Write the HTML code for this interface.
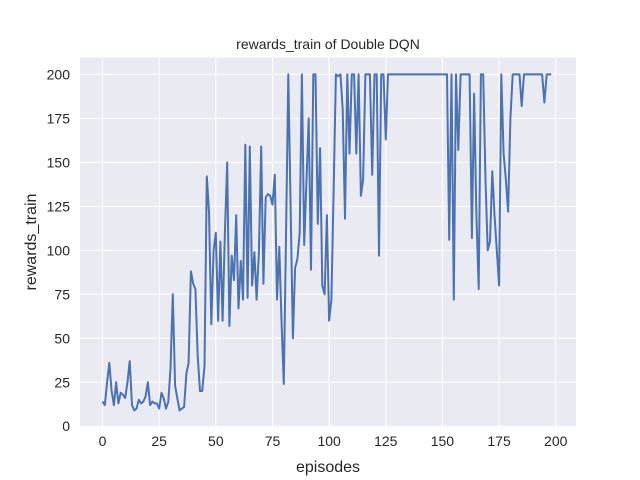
<!DOCTYPE html>
<html><head><meta charset="utf-8"><style>
body{margin:0;background:#fff}
svg{display:block;font-family:"Liberation Sans","DejaVu Sans",sans-serif}
</style></head><body>
<svg id="s" width="640" height="480" xmlns="http://www.w3.org/2000/svg">
<rect x="80" y="57.6" width="496" height="369.6" fill="#eaeaf2"/>
<g id="grid" stroke="#fff" stroke-width="1"></g>
<g id="lab" font-size="14" fill="#262626"></g>
<polyline id="line" fill="none" stroke="#4c72b0" stroke-width="2" stroke-linejoin="round"/>
<text x="328" y="49" font-size="14" text-anchor="middle" fill="#262626">rewards_train of Double DQN</text>
<text x="328" y="472" font-size="16" text-anchor="middle" fill="#262626">episodes</text>
<text x="36" y="242" font-size="16" text-anchor="middle" fill="#262626" transform="rotate(-90 36 242)">rewards_train</text>
</svg>
<script>
var d=[14,12,25,36,20,12,25,13,19,18,16,25,37,12,9,10,15,13,14,17,25,12,14,13,13,10,19,16,10,14,33,75,23,16,9,10,11,30,36,88,81,78,40,20,20,34,142,122,58,100,110,60,105,60,110,150,57,97,83,120,67,94,72,160,73,159,80,99,72,99,159,81,130,132,131,126,143,72,
102,60,24,112,200,125,50,90,95,110,200,103,140,175,89,200,200,115,158,80,75,120,60,72,136,200,199,200,180,118,200,155,200,200,155,200,131,140,200,200,200,143,200,200,97,200,200,163,200];
while(d.length<153)d.push(200);
d=d.concat([106,200,72,200,157,200,200,200,200,200,107,189,120,78,200,200,140,100,105,145,120,100,80,200,155,140,122,175,200,200,200,200,182,200,200,200,200,200,200,200,200,200,184,200,200,200]);
var xmin=-9.95,xmax=208.95;
function X(v){return 80+(v-xmin)/(xmax-xmin)*496}
function Y(v){return 427.2-(v+0.55)/210.1*369.6}
var pts=d.map(function(v,i){return X(i).toFixed(1)+","+Y(v).toFixed(1)}).join(" ");
document.getElementById("line").setAttribute("points",pts);
var g=document.getElementById("grid"),l=document.getElementById("lab"),ns="http://www.w3.org/2000/svg";
function el(p,t,a){var e=document.createElementNS(ns,t);for(var k in a)e.setAttribute(k,a[k]);p.appendChild(e);return e}
for(var v=0;v<=200;v+=25){var x=X(v);el(g,"line",{x1:x,x2:x,y1:57.6,y2:427.2});var t=el(l,"text",{x:x,y:446,"text-anchor":"middle"});t.textContent=v;}
for(var v=0;v<=200;v+=25){var y=Y(v);el(g,"line",{x1:80,x2:576,y1:y,y2:y});var t=el(l,"text",{x:70,y:y+5,"text-anchor":"end"});t.textContent=v;}
</script>
</body></html>
